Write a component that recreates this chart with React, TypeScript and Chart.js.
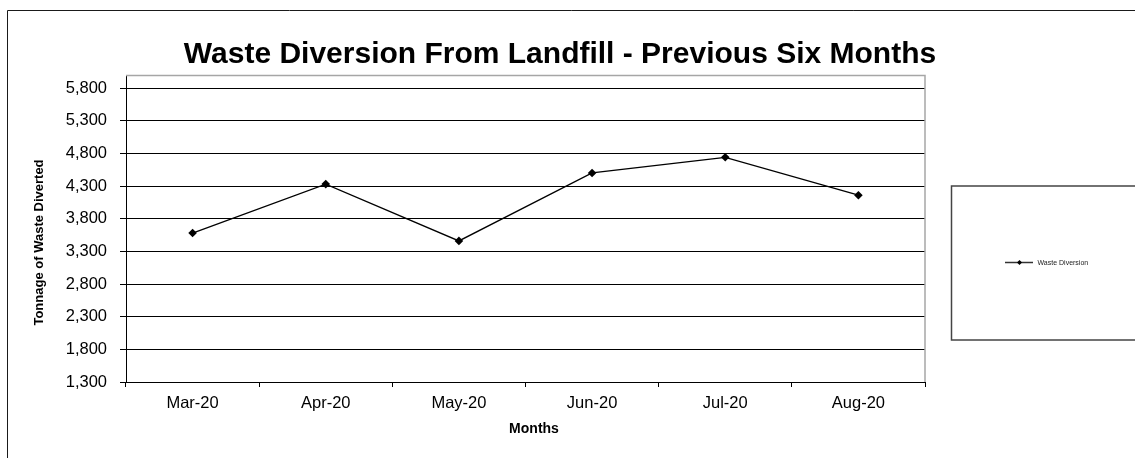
import React, { useEffect, useRef } from 'react';
import { Chart, registerables } from 'chart.js';

Chart.register(...registerables);

const categories = ['Mar-20', 'Apr-20', 'May-20', 'Jun-20', 'Jul-20', 'Aug-20'];
const wasteDiversion = [3580, 4330, 3460, 4500, 4740, 4160];
const yTickValues = [1300, 1800, 2300, 2800, 3300, 3800, 4300, 4800, 5300, 5800];
const yMin = 1300;
const yMax = 6000;
const seriesLabel = 'Waste Diversion';
const chartTitle = 'Waste Diversion From Landfill - Previous Six Months';
const yAxisTitle = 'Tonnage of Waste Diverted';
const xAxisTitle = 'Months';

const FONT = '"Liberation Sans", Arial, Helvetica, sans-serif';
const W = 1135;
const H = 458;

const decorPlugin = {
  id: 'decor',
  beforeDraw(chart: any) {
    const ctx = chart.ctx;
    ctx.save();
    ctx.fillStyle = '#ffffff';
    ctx.fillRect(0, 0, chart.width, chart.height);
    ctx.restore();
  },
  afterDraw(chart: any) {
    const ctx = chart.ctx;
    const a = chart.chartArea;
    ctx.save();
    // outer chart border
    ctx.strokeStyle = '#1a1a1a';
    ctx.lineWidth = 1;
    ctx.beginPath();
    ctx.moveTo(7.5, chart.height);
    ctx.lineTo(7.5, 10.5);
    ctx.lineTo(chart.width, 10.5);
    ctx.stroke();

    // plot area border (top / right)
    ctx.strokeStyle = '#a6a6a6';
    ctx.lineWidth = 1.5;
    ctx.beginPath();
    ctx.moveTo(a.left, a.top + 0.5);
    ctx.lineTo(a.right, a.top + 0.5);
    ctx.lineTo(a.right, a.bottom);
    ctx.stroke();

    // chart title
    ctx.fillStyle = '#000';
    ctx.font = `bold 30px ${FONT}`;
    ctx.textAlign = 'center';
    ctx.textBaseline = 'alphabetic';
    ctx.fillText(chartTitle, 560, 63);

    // y axis title
    ctx.save();
    ctx.translate(39, 242.5);
    ctx.rotate(-Math.PI / 2);
    ctx.font = `bold 13px ${FONT}`;
    ctx.textAlign = 'center';
    ctx.textBaseline = 'middle';
    ctx.fillText(yAxisTitle, 0, 0);
    ctx.restore();

    // x axis title
    ctx.font = `bold 14px ${FONT}`;
    ctx.textAlign = 'center';
    ctx.textBaseline = 'alphabetic';
    ctx.fillText(xAxisTitle, 534, 433);

    // legend box
    ctx.strokeStyle = '#444';
    ctx.lineWidth = 1.5;
    ctx.strokeRect(951.5, 186, 400, 154);
    const ds = chart.data.datasets[0];
    ctx.strokeStyle = '#333';
    ctx.lineWidth = 1.5;
    ctx.beginPath();
    ctx.moveTo(1005, 262.5);
    ctx.lineTo(1033, 262.5);
    ctx.stroke();
    ctx.fillStyle = '#000';
    ctx.beginPath();
    ctx.moveTo(1019.5, 260);
    ctx.lineTo(1022, 262.5);
    ctx.lineTo(1019.5, 265);
    ctx.lineTo(1017, 262.5);
    ctx.closePath();
    ctx.fill();
    ctx.fillStyle = '#222';
    ctx.font = `7px ${FONT}`;
    ctx.textAlign = 'left';
    ctx.textBaseline = 'middle';
    ctx.fillText(ds.label, 1037.5, 263);
    ctx.restore();
  },
};

export default function App() {
  const ref = useRef<HTMLCanvasElement | null>(null);

  useEffect(() => {
    if (!ref.current) return;
    const chart = new Chart(ref.current, {
      type: 'line',
      data: {
        labels: categories,
        datasets: [
          {
            label: seriesLabel,
            data: wasteDiversion,
            borderColor: '#000',
            borderWidth: 1.3,
            backgroundColor: '#000',
            pointStyle: 'rectRot',
            pointRadius: 4.3,
            pointBackgroundColor: '#000',
            pointBorderColor: '#000',
            pointBorderWidth: 0,
            tension: 0,
            fill: false,
            clip: false as any,
          },
        ],
      },
      options: {
        animation: false,
        responsive: false,
        maintainAspectRatio: false,
        layout: { padding: { top: 75, right: W - 925, left: 0, bottom: 0 } },
        plugins: {
          legend: { display: false },
          title: { display: false },
          tooltip: { enabled: false },
        },
        scales: {
          x: {
            type: 'category',
            offset: true,
            grid: {
              offset: true,
              drawOnChartArea: false,
              drawTicks: true,
              tickLength: 5,
              color: '#000',
            },
            border: { color: '#000', width: 1 },
            ticks: {
              color: '#000',
              font: { family: FONT, size: 16.5 },
              padding: 7,
              maxRotation: 0,
              autoSkip: false,
            },
            afterFit(scale: any) {
              scale.height = H - 382;
            },
          },
          y: {
            type: 'linear',
            min: yMin,
            max: yMax,
            grid: { color: '#000', drawTicks: true, tickLength: 6 },
            border: { color: '#000', width: 1 },
            ticks: {
              color: '#000',
              font: { family: FONT, size: 16.5 },
              padding: 13,
              callback: (v: any) => Number(v).toLocaleString('en-US'),
            },
            afterBuildTicks(scale: any) {
              scale.ticks = yTickValues.map((v) => ({ value: v }));
            },
            afterFit(scale: any) {
              scale.width = 126;
            },
          },
        },
      },
      plugins: [decorPlugin],
    });
    return () => chart.destroy();
  }, []);

  return (
    <div style={{ position: 'fixed', left: 0, top: 0, width: W, height: H, background: '#fff' }}>
      <canvas ref={ref} width={W} height={H} style={{ display: 'block', width: W, height: H }} />
    </div>
  );
}
